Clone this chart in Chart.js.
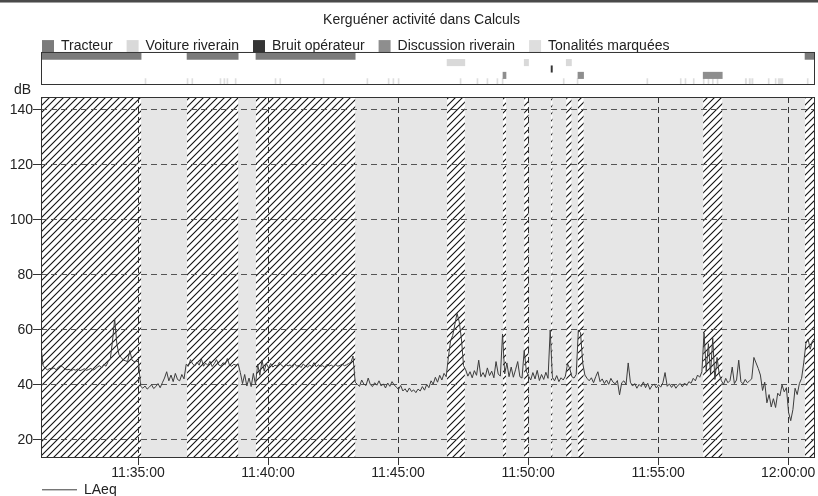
<!DOCTYPE html>
<html>
<head>
<meta charset="utf-8">
<script src="https://cdn.jsdelivr.net/npm/chart.js@4.4.1/dist/chart.umd.min.js"></script>
<style>
  html, body { margin: 0; padding: 0; background: #ffffff; }
  #wrap { position: relative; width: 818px; height: 496px; overflow: hidden; background: #fff; }
  canvas { position: absolute; left: 0; top: 0; }
  #frame { position: absolute; left: 0; top: 0; width: 818px; height: 2px; background: #4a4a4a; border-bottom: 1px solid #a0a0a0; }
</style>
</head>
<body>
<div id="wrap">
  <canvas id="main" width="818" height="496"></canvas>
  <canvas id="strip" width="818" height="86"></canvas>
  <div id="frame"></div>
</div>
<script>
// ---------------- DATA ----------------
const chartTitle = 'Kerguéner activité dans Calculs';
const categories = ['Tracteur', 'Voiture riverain', 'Bruit opérateur', 'Discussion riverain', 'Tonalités marquées'];

const tracteur = [['11:31:16', '11:35:07'], ['11:36:53', '11:38:51'], ['11:39:32', '11:43:21'], ['12:00:39', '12:01:02']];
const voitureRiverain = [['11:46:53', '11:47:34'], ['11:49:51', '11:50:01'], ['11:51:28', '11:51:40']];
const bruitOperateur = [['11:50:53', '11:50:56']];
const discussionRiverain = [['11:49:02', '11:49:09'], ['11:51:55', '11:52:08'], ['11:56:44', '11:57:28']];
const tonalitesMarquees = [
  ['11:35:16', '11:35:18'], ['11:36:53', '11:36:55'], ['11:37:04', '11:37:06'], ['11:38:09', '11:38:11'],
  ['11:38:18', '11:38:20'], ['11:38:25', '11:38:27'], ['11:38:44', '11:38:46'], ['11:40:16', '11:40:18'],
  ['11:40:27', '11:40:29'], ['11:42:07', '11:42:09'], ['11:43:48', '11:43:50'], ['11:44:37', '11:44:39'],
  ['11:44:48', '11:44:50'], ['11:45:00', '11:45:02'], ['11:47:23', '11:47:25'], ['11:48:02', '11:48:04'],
  ['11:48:25', '11:48:27'], ['11:48:48', '11:48:50'], ['11:49:00', '11:49:02'], ['11:51:21', '11:51:23'],
  ['11:51:53', '11:51:55'], ['11:54:34', '11:54:36'], ['11:55:51', '11:55:53'], ['11:56:02', '11:56:04'],
  ['11:56:21', '11:56:23'], ['11:56:44', '11:56:46'], ['11:56:55', '11:56:57'], ['11:57:05', '11:57:07'],
  ['11:57:16', '11:57:18'], ['11:58:21', '11:58:24'], ['11:58:30', '11:58:33'], ['11:58:36', '11:58:39'],
  ['11:59:14', '11:59:16'], ['11:59:30', '11:59:32'], ['11:59:37', '11:59:48'], ['12:00:44', '12:00:46']
];

const viewStart = '11:31:16';
const viewEnd = '12:01:02';
const xTickLabels = ['11:35:00', '11:40:00', '11:45:00', '11:50:00', '11:55:00', '12:00:00'];
const yTicks = [20, 40, 60, 80, 100, 120, 140];
const yMin = 13.8;
const yMax = 144.7;

const laeqLabel = 'LAeq';
const laeqStart = '11:31:16';
const laeqStepSeconds = 5;
const laeq = [
  54, 47, 46, 45.5, 46, 45.8, 46.2, 45.5, 46.5, 47, 46.6, 45.8, 45.5, 45.7, 45.2, 45.6, 45.4, 45.8, 45.2, 45.5,
  45.9, 45.3, 45.6, 46, 45.4, 45.8, 46.5, 47, 46.2, 47.5, 46.8, 48.5, 49.5,
  56, 64, 55, 51, 50, 49, 48.8, 48.5, 52.5, 49, 48.5, 48.6, 48.4,
  39.5, 38.8, 39.6, 38.5, 39.2, 40.1, 38.7, 39.4, 40.5, 39, 40.8,
  42.5, 44.8, 41.5, 43.6, 41.2, 44.2, 42, 41.5, 43.8, 42.2,
  47.5, 46.8, 49.2, 47.6, 46.9, 48.3, 47.2, 49.5, 46.8, 47.9, 47.1, 48.6, 46.7, 47.8, 49.2, 47.3, 46.9, 48.1, 47.4, 49.6,
  47.2, 46.8, 47.5, 47.2, 47.6,
  44.5, 40.5, 43.8, 39.6, 42.5, 39.4, 44.2, 40.2,
  47.5, 43.5, 49, 45, 47.8, 46.2,
  47.8, 46.5, 47.2, 46.8, 48.2, 47.1, 46.6, 47.5, 46.9, 47.3, 46.4, 47.8, 46.8, 47.1, 46.3, 47.6, 46.9, 46.5, 47.2, 46.7,
  48.1, 46.6, 47.3, 46.8, 47, 46.4, 47.5, 46.9, 47.2, 46.6, 47.4, 46.8, 47.1, 47.6, 47, 47.3, 47.8, 48.2, 50.5,
  41, 40.2, 39.5, 41.8, 40.3, 39.8, 42.5, 40.1, 39.4, 40.8, 39.9, 41.5, 39.6, 40.4, 38.9, 40.7, 39.5, 41.2, 40,
  39.2, 38.4, 39.8, 37.8, 38.6, 37.4, 38.9, 37.6, 38.2, 37.2, 38.5, 37.8, 39.4, 38.1, 40.2, 39,
  41.5, 40.3, 42.8, 41, 43.5, 41.8, 44.2, 43,
  50, 56, 58, 62, 66, 63, 57, 47,
  45.5, 43.2, 44.8, 42.6, 45.2, 43.5, 49, 43, 44.5, 42.8, 46.2, 43.4, 45, 42.6, 48.5, 44, 43.2,
  58.5,
  44, 48, 43, 46.5, 42.8, 45.5, 48.5, 43, 42.5,
  52.5, 45,
  43.2, 41.8, 44.5, 42.2, 45.3, 41.6, 43.8, 42, 44.6, 42.4,
  60,
  42.8, 41.5, 43.4, 41.2, 42.6, 41.8, 43.2,
  47.7, 46,
  43, 42.5, 43.8,
  60, 59,
  48, 43.6, 42.4,
  41.5, 42.6, 40.8, 43, 44.8, 41.2, 42.2, 40.5, 41.8, 40.2, 42.4, 41, 40.4, 41.6, 36.4, 40.8, 41.5, 40.2, 48,
  41, 39.6, 40.5, 38.8, 40.2, 39.4, 41.1, 39, 40.6, 38.4, 39.8, 40.3, 38.9, 40.1, 39.2, 40.8, 44.5, 39.5, 40.4, 39.1,
  40.2, 38.8, 39.9, 40.5, 39.3, 40.7, 39.8, 41.2, 40.6,
  42.4, 41.5, 43.6, 42.8, 44.8,
  59, 45, 55, 44, 57, 42, 50, 44,
  41.5, 40.2, 42.4, 40.8, 41.6, 46.5, 40.5, 41.8, 49, 41.2, 40.4, 42, 40.8, 41.5, 42.2,
  50, 48, 46,
  43.6, 38, 41, 33.5, 36.5, 32, 35, 31.8, 37,
  36, 40, 37.5, 39,
  30, 27, 31,
  38.8, 36.5, 40.5, 42.4,
  48, 55, 56.7, 53, 56, 57
];

// ---------------- HELPERS ----------------
const toSec = s => { const [h, m, sec] = s.split(':').map(Number); return h * 3600 + m * 60 + sec; };
const pad2 = n => String(n).padStart(2, '0');
const fmtTime = v => { v = Math.round(v); return pad2(Math.floor(v / 3600)) + ':' + pad2(Math.floor(v / 60) % 60) + ':' + pad2(v % 60); };

const xMin = toSec(viewStart);
const xMax = toSec(viewEnd);
const stripSeries = [tracteur, voitureRiverain, bruitOperateur, discussionRiverain, tonalitesMarquees];
const stripColors = ['#7b7b7b', '#d9d9d9', '#353535', '#8e8e8e', '#dedede'];
const maskedIntervals = [].concat(tracteur, voitureRiverain, bruitOperateur, discussionRiverain);

const FONT = '"Liberation Sans", Arial, Helvetica, sans-serif';
Chart.defaults.font.family = FONT;
Chart.defaults.font.size = 14;
Chart.defaults.color = '#222';

// ---------------- STRIP (events) CHART ----------------
const stripBorder = {
  id: 'stripBorder',
  afterDraw(chart) {
    const { ctx, chartArea: { left, top, right, bottom } } = chart;
    ctx.save();
    ctx.strokeStyle = '#333';
    ctx.lineWidth = 1;
    ctx.strokeRect(left + 0.5, top - 0.5, right - left - 1, bottom - top);
    ctx.restore();
  }
};

new Chart(document.getElementById('strip'), {
  type: 'bar',
  data: {
    labels: categories,
    datasets: stripSeries.map((events, k) => ({
      label: categories[k],
      data: events.map(([a, b]) => ({ x: [toSec(a), toSec(b)], y: categories[k] })),
      backgroundColor: stripColors[k],
      borderWidth: 0,
      barPercentage: 1,
      categoryPercentage: 1,
      grouped: false,
      minBarLength: 1
    }))
  },
  options: {
    indexAxis: 'y',
    responsive: false,
    animation: false,
    devicePixelRatio: 1,
    layout: { padding: { top: 15, left: 28, right: 3, bottom: 1 } },
    scales: {
      x: { type: 'linear', min: xMin, max: xMax, display: false },
      y: {
        type: 'category', display: true, offset: true,
        grid: { display: false, drawTicks: false },
        ticks: { display: false },
        border: { display: false },
        afterFit: s => { s.width = 13; }
      }
    },
    plugins: {
      title: { display: true, text: chartTitle, color: '#222', font: { size: 14, weight: 'normal', lineHeight: 0.72 }, padding: { top: 0, bottom: 0 } },
      legend: {
        display: true, position: 'top', align: 'start', maxHeight: 27.9,
        labels: { boxWidth: 12, boxHeight: 12, padding: 14, color: '#222', font: { size: 14 } }
      },
      tooltip: { enabled: false }
    }
  },
  plugins: [stripBorder]
});

// ---------------- MAIN CHART ----------------
function makeHatch(ctx) {
  const c = document.createElement('canvas');
  c.width = 7; c.height = 7;
  const g = c.getContext('2d');
  g.strokeStyle = '#111';
  g.lineWidth = 1.1;
  g.beginPath();
  for (let k = -1; k <= 1; k++) {
    g.moveTo(-1, 8 + 7 * k);
    g.lineTo(8, -1 + 7 * k);
  }
  g.stroke();
  return ctx.createPattern(c, 'repeat');
}

const mainBg = {
  id: 'mainBg',
  beforeDraw(chart) {
    const { ctx, chartArea: { left, top, right, bottom }, scales: { x } } = chart;
    const hatch = makeHatch(ctx);
    ctx.save();
    ctx.fillStyle = '#e6e6e6';
    ctx.fillRect(left, top, right - left, bottom - top);
    for (const [a, b] of maskedIntervals) {
      const x1 = Math.max(left, x.getPixelForValue(toSec(a)));
      const x2 = Math.min(right, x.getPixelForValue(toSec(b)));
      if (x2 <= x1) continue;
      ctx.fillStyle = '#ffffff';
      ctx.fillRect(x1, top, x2 - x1, bottom - top);
      ctx.fillStyle = hatch;
      ctx.fillRect(x1, top, x2 - x1, bottom - top);
    }
    ctx.restore();
  },
  afterDraw(chart) {
    const { ctx, chartArea: { left, top, right, bottom } } = chart;
    ctx.save();
    ctx.strokeStyle = '#333';
    ctx.lineWidth = 1;
    ctx.strokeRect(left + 0.5, top + 0.5, right - left - 1, bottom - top);
    ctx.fillStyle = '#222';
    ctx.font = '14px ' + FONT;
    ctx.textAlign = 'left';
    ctx.textBaseline = 'middle';
    ctx.fillText('dB', 14, 90);
    ctx.restore();
  }
};

new Chart(document.getElementById('main'), {
  type: 'line',
  data: {
    datasets: [{
      label: laeqLabel,
      data: laeq.map((v, i) => ({ x: toSec(laeqStart) + i * laeqStepSeconds, y: v })),
      borderColor: '#3c3c3c',
      borderWidth: 1,
      pointRadius: 0,
      tension: 0,
      fill: false
    }]
  },
  options: {
    responsive: false,
    animation: false,
    devicePixelRatio: 1,
    layout: { padding: { top: 97, right: 3, left: 0, bottom: 0 } },
    scales: {
      x: {
        type: 'linear', min: xMin, max: xMax,
        afterBuildTicks: s => { s.ticks = xTickLabels.map(l => ({ value: toSec(l) })); },
        ticks: { callback: v => fmtTime(v), autoSkip: false, maxRotation: 0, padding: 0, color: '#222', font: { size: 14 } },
        grid: { color: '#333', lineWidth: 1, tickColor: '#333', tickLength: 8, tickBorderDash: [] },
        border: { display: false, dash: [6, 4] }
      },
      y: {
        min: yMin, max: yMax,
        afterBuildTicks: s => { s.ticks = yTicks.map(v => ({ value: v })); },
        afterFit: s => { s.width = 41; },
        ticks: { padding: 0, color: '#222', font: { size: 14 } },
        grid: { color: '#555', lineWidth: 1, tickColor: '#333', tickLength: 8, tickBorderDash: [] },
        border: { display: false, dash: [6, 4] }
      }
    },
    plugins: {
      legend: {
        display: true, position: 'bottom', align: 'start', fullSize: false, maxHeight: 14.2,
        labels: { usePointStyle: true, pointStyle: 'line', pointStyleWidth: 35, padding: 1, color: '#222', font: { size: 14 } }
      },
      title: { display: false },
      tooltip: { enabled: false }
    }
  },
  plugins: [mainBg]
});
</script>
</body>
</html>
